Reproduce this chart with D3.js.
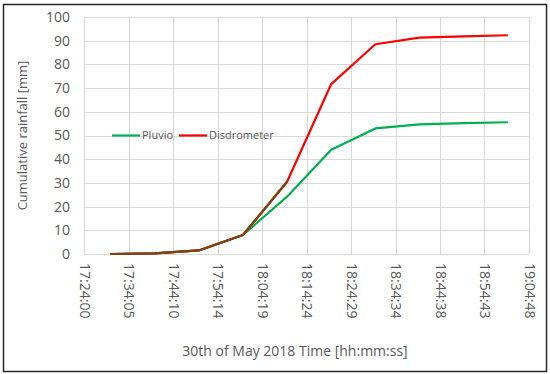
<!DOCTYPE html>
<html>
<head>
<meta charset="utf-8">
<script src="https://cdn.jsdelivr.net/npm/d3@7"></script>
<style>
  body { margin: 0; background: #fff; }
  text { font-family: "Open Sans", "Noto Sans", sans-serif; fill: #595959; }
</style>
</head>
<body>
<div id="chart"></div>
<script>
// data
var times = ["17:30:00", "17:40:00", "17:50:00", "18:00:00", "18:10:00",
             "18:20:00", "18:30:00", "18:40:00", "18:50:00", "19:00:00"];
var pluvio = [0, 0.3, 1.5, 8, 24.2, 44, 53, 54.7, 55.2, 55.6];
var disdrometer = [0, 0.3, 1.5, 8, 30.5, 71.7, 88.5, 91.3, 91.8, 92.3];
var tickLabels = ["17:24:00", "17:34:05", "17:44:10", "17:54:14", "18:04:19", "18:14:24",
                  "18:24:29", "18:34:34", "18:44:38", "18:54:43", "19:04:48"];
var yTicks = [0, 10, 20, 30, 40, 50, 60, 70, 80, 90, 100];
var seriesNames = ["Pluvio", "Disdrometer"];

var svgWidth = 550;
var svgHeight = 374;

var margin = {
    top: 17,
    right: 21,
    bottom: 120,
    left: 84
};

var chartHeight = svgHeight - margin.top - margin.bottom;
var chartWidth = svgWidth - margin.left - margin.right;

function toSec(s) {
    var p = s.split(":").map(Number);
    return p[0] * 3600 + p[1] * 60 + p[2];
}

var svg = d3.select("#chart")
    .append("svg")
    .attr("height", svgHeight)
    .attr("width", svgWidth);

// outer frame
svg.append("rect")
    .attr("x", 3.5).attr("y", 4.5)
    .attr("width", 543).attr("height", 367)
    .attr("fill", "none")
    .attr("stroke", "#262626")
    .attr("stroke-width", 1.5);

var chartGroup = svg.append("g")
    .attr("transform", `translate(${margin.left}, ${margin.top})`);

var xScale = d3.scaleLinear()
    .domain([toSec("17:24:00"), toSec("17:24:00") + 6048])
    .range([0, chartWidth]);

var yScale = d3.scaleLinear()
    .domain([0, 100])
    .range([chartHeight, 0]);

var tickPos = tickLabels.map((t, i) => toSec("17:24:00") + i * 604.8);

// gridlines
chartGroup.append("g")
    .selectAll("line")
    .data(yTicks)
    .enter()
    .append("line")
    .attr("x1", 0).attr("x2", chartWidth)
    .attr("y1", d => Math.round(yScale(d)) + 0.5)
    .attr("y2", d => Math.round(yScale(d)) + 0.5)
    .attr("stroke", "#d9d9d9");

chartGroup.append("g")
    .selectAll("line")
    .data(tickPos)
    .enter()
    .append("line")
    .attr("y1", 0).attr("y2", chartHeight)
    .attr("x1", d => Math.round(xScale(d)) + 0.5)
    .attr("x2", d => Math.round(xScale(d)) + 0.5)
    .attr("stroke", "#d9d9d9");

// axes (labels only)
var leftAxis = d3.axisLeft(yScale).tickValues(yTicks).tickSize(0).tickPadding(14);
var yAxisG = chartGroup.append("g").call(leftAxis);
yAxisG.select(".domain").remove();
yAxisG.selectAll("text")
    .attr("font-size", "14px")
    .style("font-family", null)
    .attr("fill", "#595959");

var bottomAxis = d3.axisBottom(xScale)
    .tickValues(tickPos)
    .tickFormat((d, i) => tickLabels[i])
    .tickSize(0);
var xAxisG = chartGroup.append("g")
    .attr("transform", `translate(0, ${chartHeight})`)
    .call(bottomAxis);
xAxisG.select(".domain").remove();
xAxisG.selectAll("text")
    .attr("font-size", "14px")
    .attr("fill", "#595959")
    .attr("text-anchor", "start")
    .attr("dy", "0.35em")
    .attr("y", 0)
    .attr("transform", "translate(0, 9) rotate(90)");
d3.select("svg").selectAll(".tick text").attr("font-family", null);

// lines
var line = d3.line()
    .x((d, i) => xScale(toSec(times[i])))
    .y(d => yScale(d));

chartGroup.append("path")
    .datum(pluvio)
    .attr("d", line)
    .attr("fill", "none")
    .attr("stroke", "#00b050")
    .attr("stroke-width", 2.2)
    .attr("stroke-linejoin", "round");

chartGroup.append("path")
    .datum(disdrometer)
    .attr("d", line)
    .attr("fill", "none")
    .attr("stroke", "#ff0000")
    .attr("stroke-width", 2.2)
    .attr("stroke-linejoin", "round");

// where the two series sit on top of each other the original shows a dark brown line
chartGroup.append("path")
    .datum(disdrometer.slice(0, 5))
    .attr("d", line)
    .attr("fill", "none")
    .attr("stroke", "#7a4516")
    .attr("stroke-width", 2.2)
    .attr("stroke-linejoin", "round");

// legend
var legend = chartGroup.append("g")
    .attr("transform", `translate(28, ${yScale(50)})`);
var legendColors = ["#00b050", "#ff0000"];
var legendX = [0, 67];
seriesNames.forEach(function(name, i) {
    legend.append("line")
        .attr("x1", legendX[i]).attr("x2", legendX[i] + 28)
        .attr("y1", 0).attr("y2", 0)
        .attr("stroke", legendColors[i])
        .attr("stroke-width", 2.2);
    legend.append("text")
        .attr("x", legendX[i] + 30)
        .attr("y", 0)
        .attr("dy", "0.35em")
        .attr("font-size", "11px")
        .text(name);
});

// axis titles
chartGroup.append("text")
    .attr("transform", "rotate(-90)")
    .attr("x", 0 - (chartHeight / 2))
    .attr("y", 22 - margin.left)
    .attr("dy", "0.35em")
    .attr("text-anchor", "middle")
    .attr("font-size", "13px")
    .text("Cumulative rainfall [mm]");

svg.append("text")
    .attr("x", 295)
    .attr("y", 351)
    .attr("dy", "0.35em")
    .attr("text-anchor", "middle")
    .attr("font-size", "14px")
    .text("30th of May 2018 Time [hh:mm:ss]");
</script>
</body>
</html>
